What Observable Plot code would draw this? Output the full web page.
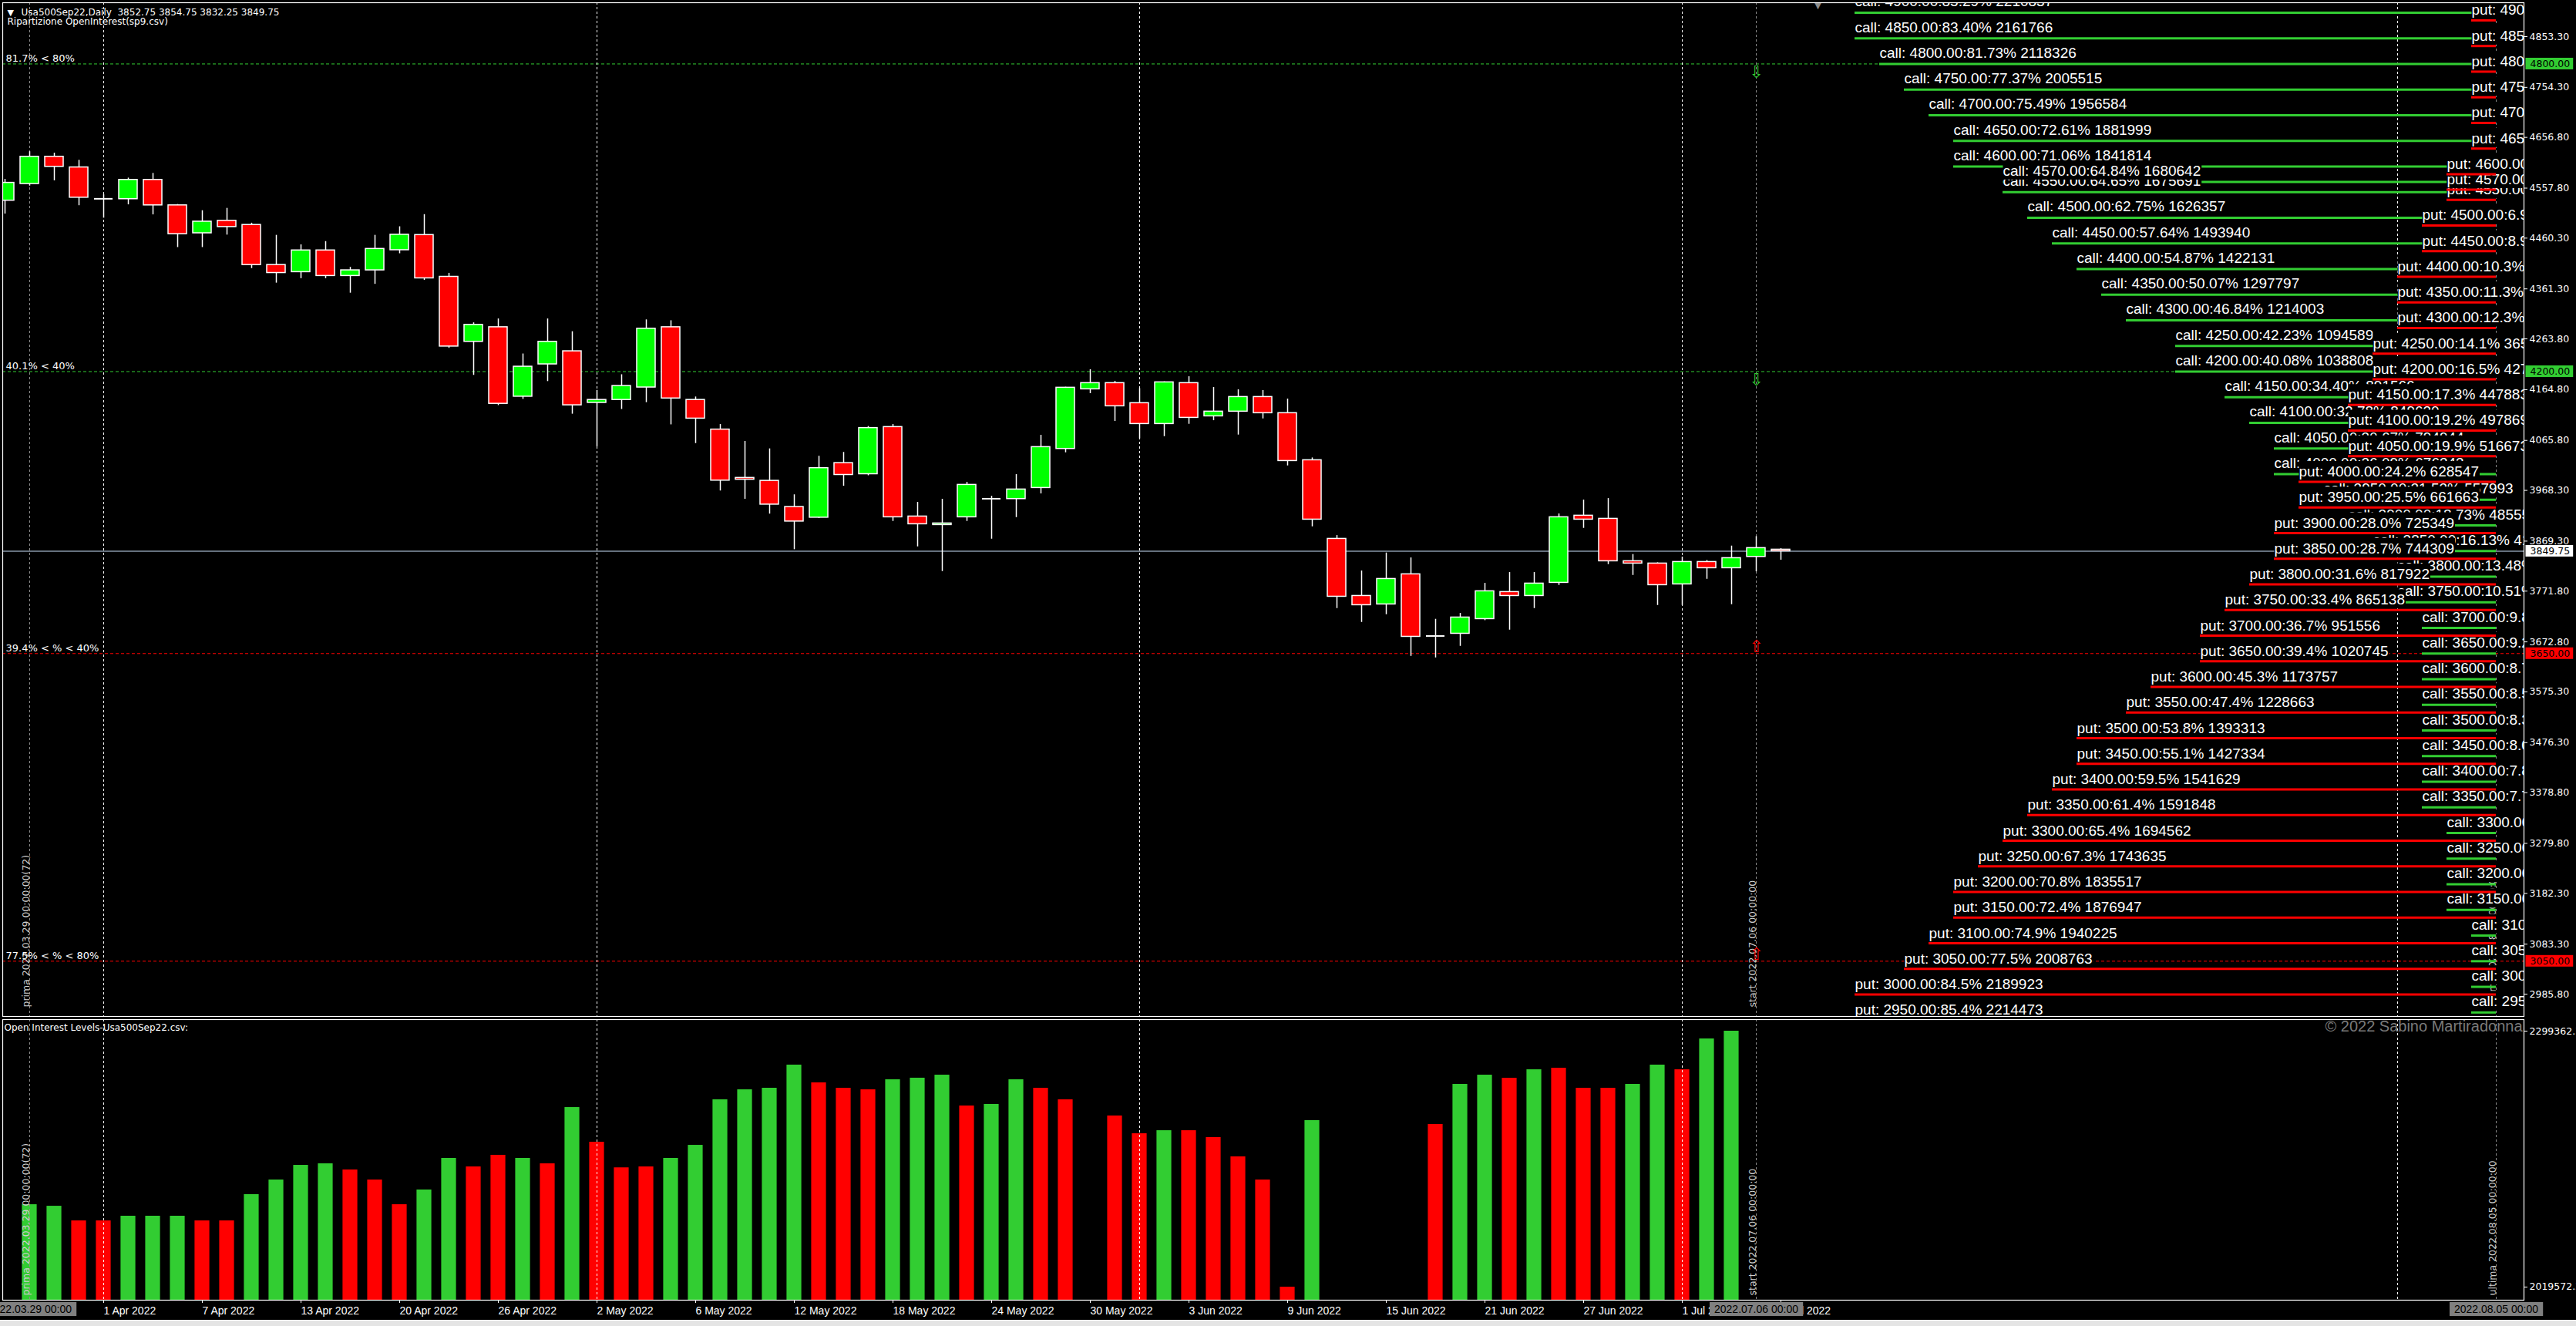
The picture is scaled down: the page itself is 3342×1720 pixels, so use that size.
<!DOCTYPE html>
<html>
<head>
<meta charset="utf-8">
<script src="https://cdn.jsdelivr.net/npm/d3@7"></script>
<script src="https://cdn.jsdelivr.net/npm/@observablehq/plot@0.6"></script>
<style>
  html, body { margin:0; padding:0; background:#000; }
  #root { position:relative; width:3342px; height:1720px; background:#000; overflow:hidden; }
  #main { position:absolute; left:0; top:0; }
  #sub { position:absolute; left:0; top:1320px; }
  #tabs { position:absolute; left:0; top:1712px; width:3342px; height:8px; background:#e4e4e4; border-top:1px solid #ffffff; }
  svg { display:block; }
</style>
</head>
<body>
<div id="root"><div id="main"></div><div id="sub"></div><div id="tabs"></div></div>
<script>
// ---------------- DATA ----------------
const symbol = "Usa500Sep22,Daily";
const indicatorName = "Ripartizione OpenInterest(sp9.csv)";
const subTitle = "Open Interest Levels-Usa500Sep22.csv:";
const copyright = "\u00a9 2022 Sabino Martiradonna";

// daily candles, bar index 0 = 28 Mar 2022 ... 72 = 7 Jul 2022
const candleOpen = [4533.5,4566.0,4619.1,4598.3,4537.0,4536.4,4574.0,4524.3,4469.9,4494.2,4486.1,4408.0,4394.1,4436.4,4386.6,4397.6,4436.9,4466.4,4384.9,4258.2,4286.6,4151.2,4214.2,4239.7,4139.1,4144.8,4169.1,4286.6,4144.8,4087.0,3992.7,3987.0,3936.0,3915.2,4021.6,4000.0,4091.9,3917.4,3900.9,3916.0,3952.0,3951.5,3973.1,4049.3,4165.6,4177.6,4138.5,4097.9,4177.6,4112.9,4122.0,4150.5,4119.0,4027.2,3873.8,3762.5,3746.0,3804.7,3684.3,3688.8,3717.4,3770.1,3762.5,3788.1,3919.0,3912.9,3830.2,3825.7,3785.1,3828.7,3816.7,3838.7,3852.75];
const candleHigh = [4575.0,4629.0,4626.1,4612.2,4545.0,4577.5,4586.7,4526.0,4513.9,4518.5,4489.6,4465.9,4447.3,4453.7,4403.4,4465.9,4482.6,4506.3,4391.8,4295.2,4302.8,4234.5,4302.8,4277.9,4163.4,4194.0,4301.0,4299.3,4150.6,4096.9,4063.9,4049.4,3959.8,4035.0,4042.5,4093.0,4096.9,3945.0,3951.0,3984.1,3957.0,3999.2,4075.9,4169.6,4203.7,4181.1,4167.1,4180.1,4190.1,4169.1,4164.6,4163.1,4146.5,4031.7,3880.3,3811.2,3846.3,3836.7,3717.0,3728.5,3787.1,3808.2,3808.2,3922.5,3949.5,3952.5,3843.3,3827.2,3838.2,3831.7,3859.8,3878.3,3854.75];
const candleLow = [4507.5,4562.0,4572.3,4523.7,4499.4,4525.4,4505.8,4442.1,4442.1,4466.4,4401.1,4372.7,4381.4,4381.4,4353.1,4370.4,4430.0,4378.0,4245.5,4192.8,4133.9,4146.0,4180.7,4117.1,4053.5,4126.3,4139.6,4096.3,4059.8,3967.3,3951.1,3922.2,3852.8,3913.5,3976.5,3997.0,3907.9,3858.3,3810.2,3907.9,3873.3,3915.4,3961.6,4041.8,4157.1,4102.9,4068.8,4073.3,4097.4,4104.4,4076.4,4107.9,4016.2,3897.4,3738.0,3710.9,3726.0,3644.7,3641.7,3664.3,3714.4,3695.9,3738.0,3783.1,3894.4,3823.7,3802.6,3744.0,3744.0,3795.1,3745.5,3809.7,3832.25];
const candleClose = [4568.2,4619.1,4599.5,4539.3,4537.0,4574.0,4524.3,4468.2,4492.5,4482.1,4408.0,4392.4,4436.4,4386.6,4397.6,4439.3,4467.0,4382.0,4249.0,4291.2,4137.3,4209.6,4258.2,4134.4,4144.8,4172.0,4283.7,4147.7,4108.4,3987.5,3989.3,3940.7,3907.7,4011.8,3998.5,4090.0,3916.0,3902.4,3903.9,3979.1,3952.0,3970.1,4052.8,4168.6,4177.6,4132.5,4097.9,4179.1,4109.9,4122.0,4150.5,4119.0,4025.7,3911.4,3761.0,3744.5,3795.6,3682.8,3684.3,3720.4,3771.6,3762.5,3786.6,3916.0,3911.4,3830.2,3825.7,3783.6,3828.7,3816.7,3836.2,3855.8,3849.75];

// option open interest by strike
const strikes = [4900,4850,4800,4750,4700,4650,4600,4570,4550,4500,4450,4400,4350,4300,4250,4200,4150,4100,4050,4000,3950,3900,3850,3800,3750,3700,3650,3600,3550,3500,3450,3400,3350,3300,3250,3200,3150,3100,3050,3000,2950];
const callPct = [85.29,83.40,81.73,77.37,75.49,72.61,71.06,64.84,64.65,62.75,57.64,54.87,50.07,46.84,42.23,40.08,34.40,32.78,30.67,26.09,21.53,18.73,16.13,13.48,10.51,9.85,9.25,8.75,8.55,8.35,8.05,7.85,7.75,7.45,7.25,7.05,6.85,6.55,6.25,5.85,5.55];
const callOI = [2210837,2161766,2118326,2005515,1956584,1881999,1841814,1680642,1675691,1626357,1493940,1422131,1297797,1214003,1094589,1038808,891566,849630,794944,676343,557993,485553,418106,349415,272430,255322,239769,226809,221625,216440,208664,203480,200888,193111,187927,182743,177559,169783,162006,151638,143862];
const putPct = [1.2,1.5,1.9,2.3,2.8,3.4,4.6,5.1,5.3,6.9,8.9,10.3,11.3,12.3,14.1,16.5,17.3,19.2,19.9,24.2,25.5,28.0,28.7,31.6,33.4,36.7,39.4,45.3,47.4,53.8,55.1,59.5,61.4,65.4,67.3,70.8,72.4,74.9,77.5,84.5,85.4];
const putOI = [31116,38895,49267,59639,72604,88162,119278,132243,137429,178917,230777,267079,293009,318939,365613,427845,447883,497869,516673,628547,661663,725349,744309,817922,865138,951556,1020745,1173757,1228663,1393313,1427334,1541629,1591848,1694562,1743635,1835517,1876947,1940225,2008763,2189923,2214473];
// drawn length of each level, in bars back from the last ("ultima") bar
const callBars = [26,26,25,24,23,22,22,20,20,19,18,17,16,15,13,13,11,10,9,9,7,6,5,4,4,3,3,3,3,3,3,3,3,2,2,2,2,1,1,1,1];
const putBars = [1,1,1,1,1,1,2,2,2,3,3,4,4,4,5,5,6,6,6,8,8,9,9,10,11,12,12,14,15,17,17,18,19,20,21,22,22,23,24,26,26];

const levelPrices = [4800, 4200, 3650, 3050];
const levelLabels = ["81.7% < 80%", "40.1% < 40%", "39.4% < % < 40%", "77.5% < % < 80%"];
const levelKinds = ["call", "call", "put", "put"];

const priceTicks = [4853.30,4754.30,4656.80,4557.80,4460.30,4361.30,4263.80,4164.80,4065.80,3968.30,3869.30,3771.80,3672.80,3575.30,3476.30,3378.80,3279.80,3182.30,3083.30,2985.80];

const dateTickIndex = [4,8,12,16,20,24,28,32,36,40,44,48,52,56,60,64,68,72];
const dateTickLabels = ["1 Apr 2022","7 Apr 2022","13 Apr 2022","20 Apr 2022","26 Apr 2022","2 May 2022","6 May 2022","12 May 2022","18 May 2022","24 May 2022","30 May 2022","3 Jun 2022","9 Jun 2022","15 Jun 2022","21 Jun 2022","27 Jun 2022","1 Jul 2022","7 Jul 2022"];
const monthStartIndex = [4, 24, 46, 68, 97];
const markerIndex = [1, 71, 101];
const markerLabels = ["prima 2022.03.29 00:00:00(72)", "start 2022.07.06 00:00:00", "ultima 2022.08.05 00:00:00"];
const markerBoxLabels = ["2022.03.29 00:00", "2022.07.06 00:00", "2022.08.05 00:00"];
const chartShiftIndex = 73.5;

// open-interest histogram (lower window)
const oiIndex = [1,2,3,4,5,6,7,8,9,10,11,12,13,14,15,16,17,18,19,20,21,22,23,24,25,26,27,28,29,30,31,32,33,34,35,36,37,38,39,40,41,42,43,45,46,47,48,49,50,51,52,53,58,59,60,61,62,63,64,65,66,67,68,69,70];
const oiValue = [2109700,2108000,2092000,2092000,2097100,2097100,2097100,2092000,2092000,2120700,2136700,2152700,2154400,2147700,2136700,2109700,2125800,2160300,2151000,2163700,2160300,2154400,2215900,2178000,2150000,2151000,2160300,2174600,2224400,2235300,2237000,2262300,2242900,2237000,2235300,2246300,2248000,2251300,2217600,2219300,2246300,2237000,2224400,2206700,2187300,2190600,2190600,2183100,2162000,2136700,2019572.2,2201600,2197400,2241200,2251300,2247900,2257200,2258900,2237000,2237000,2241200,2262300,2257200,2290900,2299362.7];
const oiDir = ["g","g","r","r","g","g","g","r","r","g","g","g","g","r","r","r","g","g","r","r","g","r","g","r","r","r","g","g","g","g","g","g","r","r","r","g","g","g","r","g","g","r","r","r","r","g","r","r","r","r","r","g","r","g","g","r","g","r","r","r","g","g","r","g","g"];

// ---------------- STYLE / LAYOUT ----------------
const W = 3342, MAIN_H = 1320, SUB_H = 400;
const ML = 3, MR = 68;
const xDomain = [-0.09375, 102.125];
const priceDomain = [2942.2, 4919.46];
const oiDomain = [2005245, 2312004];
const GREEN = "#32cd32", RED = "#ff0000", UP = "#00ff00", DOWN = "#ff0000";
const END = markerIndex[2];
const START = markerIndex[1];
const LABEL_FONT = "Liberation Sans, Arial, sans-serif";
const UI_FONT = "DejaVu Sans, Verdana, sans-serif";

const candles = candleOpen.map((o, i) => ({i, o, h: candleHigh[i], l: candleLow[i], c: candleClose[i]}));
const bodies = candles.filter(d => d.o !== d.c);
const dojis = candles.filter(d => d.o === d.c);
const rows = strikes.map((s, k) => ({
  s, cb: callBars[k], pb: putBars[k],
  callText: `call: ${s.toFixed(2)}:${callPct[k].toFixed(2)}% ${callOI[k]}`,
  putText: `put: ${s.toFixed(2)}:${putPct[k].toFixed(1)}% ${putOI[k]}`
}));
const rowsBottomUp = rows.slice().reverse();
const levels = levelPrices.map((p, k) => ({p, label: levelLabels[k], kind: levelKinds[k], color: levelKinds[k] === "call" ? GREEN : RED}));
const last = candles[candles.length - 1];
const header = `${symbol}  ${last.o.toFixed(2)} ${last.h.toFixed(2)} ${last.l.toFixed(2)} ${last.c.toFixed(2)}`;
const priceBoxes = [
  {v: levelPrices[0], m: "#000001"}, {v: levelPrices[1], m: "#000001"},
  {v: last.c, m: "#000002"},
  {v: levelPrices[2], m: "#000003"}, {v: levelPrices[3], m: "#000003"}
];
const oiBars = oiIndex.map((i, k) => ({i, v: oiValue[k], c: oiDir[k] === "g" ? GREEN : RED}));

const vText = (dy) => Plot.text(markerIndex, {x: d => d, text: (d, k) => markerLabels[k], frameAnchor: "bottom", rotate: -90,
  textAnchor: "start", lineAnchor: "bottom", dx: -1, dy, fill: "#cfcfcf", fontFamily: UI_FONT, fontSize: 12.5});

const main = Plot.plot({
  width: W, height: MAIN_H,
  marginLeft: ML, marginRight: MR, marginTop: 3, marginBottom: 2,
  style: {background: "transparent", color: "#fff", overflow: "visible"},
  x: {domain: xDomain, axis: null},
  y: {domain: priceDomain, axis: null},
  color: {type: "identity"},
  marks: [
    Plot.ruleY(levels, {y: "p", stroke: "color", strokeWidth: 1, strokeDasharray: "4,3"}),
    Plot.ruleY([last.c], {y: d => d, stroke: "#8797a8", strokeWidth: 1.5}),
    Plot.ruleX(monthStartIndex, {x: d => d, stroke: "#ffffff", strokeWidth: 1, strokeDasharray: "3,3"}),
    Plot.ruleX(markerIndex, {x: d => d, stroke: "#8c8c8c", strokeWidth: 1, strokeDasharray: "3,3"}),
    vText(-12),
    Plot.text(levels, {y: "p", text: "label", frameAnchor: "left", dx: 4, dy: -3, textAnchor: "start", lineAnchor: "bottom",
      fill: "#fff", fontFamily: UI_FONT, fontSize: 13}),
    // candles
    Plot.ruleX(candles, {x: "i", y1: "l", y2: "h", stroke: "#fff", strokeWidth: 1.5, clip: true}),
    Plot.rect(bodies, {x1: d => d.i - 0.375, x2: d => d.i + 0.375, y1: "o", y2: "c",
      fill: d => d.c > d.o ? UP : DOWN, stroke: "#fff", strokeWidth: 1.5, clip: true}),
    Plot.ruleY(dojis, {x1: d => d.i - 0.375, x2: d => d.i + 0.375, y: "c", stroke: "#fff", strokeWidth: 2}),
    // level arrows at the start bar
    Plot.text(levels.filter(d => d.kind === "call"), {x: () => START, y: "p", text: () => "\u21e9", fill: GREEN,
      lineAnchor: "top", dy: 2, fontSize: 22, fontFamily: UI_FONT}),
    Plot.text(levels.filter(d => d.kind === "put"), {x: () => START, y: "p", text: () => "\u21e7", fill: RED,
      lineAnchor: "bottom", dy: -2, fontSize: 22, fontFamily: UI_FONT}),
    // option open interest levels
    Plot.ruleY(rows, {y: "s", x1: d => END - d.cb, x2: () => END, stroke: GREEN, strokeWidth: 3, clip: true}),
    Plot.text(rowsBottomUp, {x: d => END - d.cb, y: "s", text: "callText", textAnchor: "start", lineAnchor: "bottom", dy: -8,
      fill: "#fdfdfd", fontFamily: LABEL_FONT, fontSize: 19, clip: true}),
    Plot.text(rowsBottomUp, {x: d => END - d.pb, y: "s", text: "putText", textAnchor: "start", lineAnchor: "bottom", dy: 3,
      fill: "#fefefe", fontFamily: LABEL_FONT, fontSize: 19, clip: true}),
    Plot.ruleY(rows, {y: "s", x1: d => END - d.pb, x2: () => END, dy: 10, stroke: RED, strokeWidth: 3, clip: true}),
    // header
    Plot.text(["\u25bc"], {text: d => d, frameAnchor: "top-left", dx: 6, dy: 16, lineAnchor: "bottom", fill: "#fff", fontSize: 11, fontFamily: UI_FONT}),
    Plot.text([header], {text: d => d, frameAnchor: "top-left", dx: 24, dy: 16.5, lineAnchor: "bottom", fill: "#fff", fontSize: 12, fontFamily: UI_FONT}),
    Plot.text([indicatorName], {text: d => d, frameAnchor: "top-left", dx: 6, dy: 28.5, lineAnchor: "bottom", fill: "#fff", fontSize: 12, fontFamily: UI_FONT}),
    Plot.text([chartShiftIndex], {x: d => d, text: () => "\u25bc", frameAnchor: "top", dy: 0, lineAnchor: "top", fill: "#8c8c8c", fontSize: 11, fontFamily: UI_FONT}),
    // price axis
    Plot.axisY(priceTicks, {anchor: "right", tickFormat: d => d.toFixed(2), tickSize: 4, tickPadding: 3,
      fontFamily: UI_FONT, fontSize: 12.5, label: null}),
    ...["#000001", "#000002", "#000003"].map(m => Plot.text(priceBoxes.filter(d => d.m === m), {
      y: "v", text: d => d.v.toFixed(2), frameAnchor: "right", dx: 8, textAnchor: "start", lineAnchor: "middle",
      fill: m, fontFamily: UI_FONT, fontSize: 12.5})),
    Plot.frame({stroke: "#fff", strokeWidth: 1.2})
  ]
});

const sub = Plot.plot({
  width: W, height: SUB_H,
  marginLeft: ML, marginRight: MR, marginTop: 2, marginBottom: 34,
  style: {background: "transparent", color: "#fff", overflow: "visible"},
  x: {domain: xDomain, axis: null},
  y: {domain: oiDomain, axis: null},
  color: {type: "identity"},
  marks: [
    Plot.rect(oiBars, {x1: d => d.i - 0.3, x2: d => d.i + 0.3, y1: () => oiDomain[0], y2: "v", fill: "c", clip: true}),
    Plot.ruleX(monthStartIndex, {x: d => d, stroke: "#ffffff", strokeWidth: 1, strokeDasharray: "3,3"}),
    Plot.ruleX(markerIndex, {x: d => d, stroke: "#8c8c8c", strokeWidth: 1, strokeDasharray: "3,3"}),
    vText(-6),
    Plot.text([subTitle], {text: d => d, frameAnchor: "top-left", dx: 2, dy: 6, lineAnchor: "top", fill: "#fff", fontSize: 12, fontFamily: UI_FONT}),
    Plot.text([copyright], {text: d => d, frameAnchor: "top-right", dx: -2, dy: 1, lineAnchor: "top", textAnchor: "end", fill: "#7a7a7a", fontSize: 20, fontFamily: LABEL_FONT}),
    Plot.axisX(dateTickIndex, {anchor: "bottom", tickFormat: d => dateTickLabels[dateTickIndex.indexOf(d)], textAnchor: "start",
      tickSize: 4, tickPadding: 5, fontFamily: LABEL_FONT, fontSize: 14, label: null}),
    Plot.axisY([d3.min(oiValue), d3.max(oiValue)], {anchor: "right", tickFormat: d => d.toFixed(1), tickSize: 4, tickPadding: 3,
      fontFamily: UI_FONT, fontSize: 12.5, label: null}),
    Plot.text(markerIndex, {x: d => d, text: (d, k) => markerBoxLabels[k], frameAnchor: "bottom", dy: 12,
      textAnchor: "middle", lineAnchor: "middle", fill: "#000004", fontFamily: LABEL_FONT, fontSize: 14}),
    Plot.frame({stroke: "#fff", strokeWidth: 1.2})
  ]
});

document.getElementById("main").appendChild(main);
document.getElementById("sub").appendChild(sub);

function addBoxes(svg, marker, bg, textColor, pad) {
  const NS = "http://www.w3.org/2000/svg";
  svg.querySelectorAll("g").forEach(g => {
    if (g.getAttribute("fill") !== marker) return;
    g.querySelectorAll("text").forEach(t => {
      const b = t.getBBox();
      const r = document.createElementNS(NS, "rect");
      r.setAttribute("x", b.x - pad[3]);
      r.setAttribute("y", b.y - pad[0]);
      r.setAttribute("width", b.width + pad[1] + pad[3]);
      r.setAttribute("height", b.height + pad[0] + pad[2]);
      r.setAttribute("fill", bg);
      const tr = t.getAttribute("transform");
      if (tr) r.setAttribute("transform", tr);
      t.parentNode.insertBefore(r, t);
    });
    g.setAttribute("fill", textColor);
  });
}
addBoxes(main, "#fdfdfd", "#000000", "#ffffff", [3, 1, 1, 0]);
addBoxes(main, "#fefefe", "#000000", "#ffffff", [3, 1, 1, 0]);
addBoxes(main, "#000001", GREEN, "#000000", [0, 4, 0, 6]);
addBoxes(main, "#000002", "#ffffff", "#000000", [0, 4, 0, 6]);
addBoxes(main, "#000003", RED, "#000000", [0, 4, 0, 6]);
addBoxes(sub, "#000004", "#808080", "#000000", [1, 6, 1, 6]);
</script>
</body>
</html>
